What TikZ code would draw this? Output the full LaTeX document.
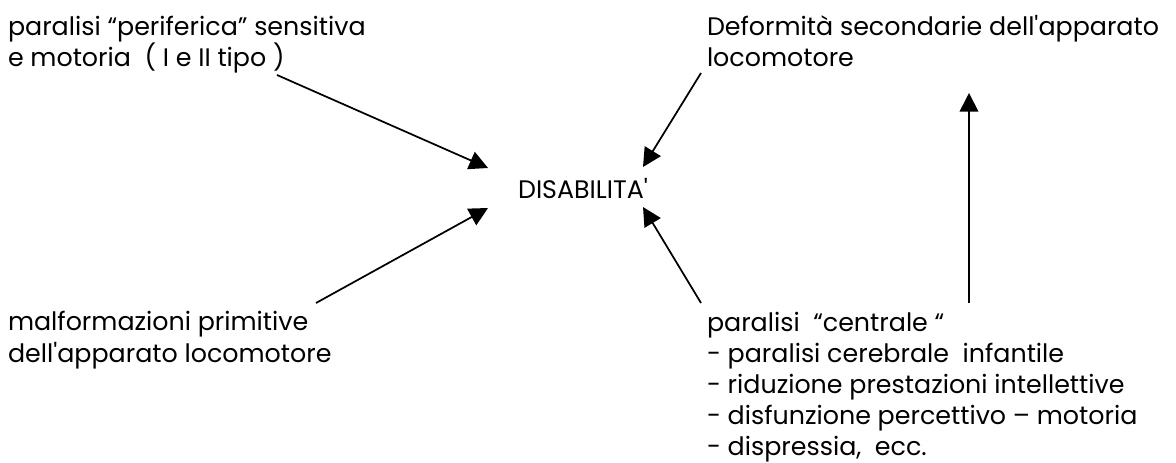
\documentclass[tikz,border=0pt]{standalone}
\usepackage{fontspec}
\setmainfont[Ligatures=TeXOff]{Poppins}
\usetikzlibrary{arrows.meta}
\begin{document}
\begin{tikzpicture}[x=0.75pt,y=-0.75pt,
  lbl/.style={inner sep=0pt,outer sep=0pt,align=left,anchor=base west,
    font=\fontsize{19}{23.6}\selectfont},
  lst/.style={lbl,font=\fontsize{19}{23.1}\selectfont},
  arr/.style={line width=1.3pt,-{Triangle[length=14pt,width=14pt]}}]
\useasboundingbox (0,0) rectangle (1176,463);
\node[lbl] (peri) at (8,67) {paralisi “periferica” sensitiva\\e motoria\ \ ( I e II tipo )};
\node[lbl] (defo) at (707,67) {Deformità secondarie dell'apparato\\locomotore};
\node[lbl,anchor=base] (dis) at (583,199) {DISABILITA'};
\node[lbl] (malf) at (8,362) {malformazioni primitive\\dell'apparato locomotore};
\node[lst] (cent) at (707,455) {paralisi\ \ “centrale “\\- paralisi cerebrale\ \ infantile\\- riduzione prestazioni intellettive\\- disfunzione percettivo – motoria\\- dispressia,\ \ ecc.};
\coordinate (s1) at (277,75);
\coordinate (t1) at (488,168);
\coordinate (s2) at (701,73);
\coordinate (t2) at (643,167);
\coordinate (s3) at (316,303);
\coordinate (t3) at (488,208);
\coordinate (s4) at (701,303);
\coordinate (t4) at (643,207);
\coordinate (s5) at (969,303);
\coordinate (t5) at (969,93);
\draw[arr] (s1) -- (t1);
\draw[arr] (s2) -- (t2);
\draw[arr] (s3) -- (t3);
\draw[arr] (s4) -- (t4);
\draw[arr] (s5) -- (t5);
\end{tikzpicture}
\end{document}
